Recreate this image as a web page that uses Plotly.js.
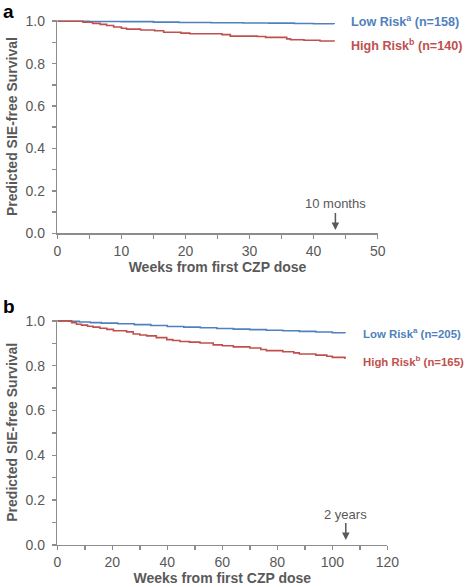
<!DOCTYPE html>
<html>
<head>
<meta charset="utf-8">
<script src="https://cdn.plot.ly/plotly-3.0.1.min.js"></script>
<style>html,body{margin:0;padding:0;background:#fff;}#chart{width:472px;height:587px;}</style>
</head>
<body>
<div id="chart"></div>
<script>
// ---- Panel a data (weeks, predicted SIE-free survival) ----
const weeksA_low  = [0, 5, 10, 15, 19, 24, 29, 33, 37, 40, 43.2];
const survA_low   = [1.0, 0.999, 0.998, 0.996, 0.994, 0.993, 0.992, 0.991, 0.989, 0.988, 0.987];
const weeksA_high = [0, 4.0, 5.5, 6.7, 7.7, 8.8, 10.0, 10.8, 13.0, 15.2, 16.6, 19.3, 20.7, 25.7, 27.0, 31.2, 32.5, 35.8, 36.4, 38.5, 41.0, 43.2];
const survA_high  = [1.0, 0.995, 0.99, 0.985, 0.98, 0.973, 0.967, 0.963, 0.959, 0.955, 0.948, 0.944, 0.941, 0.937, 0.930, 0.928, 0.924, 0.917, 0.913, 0.910, 0.907, 0.905];

// ---- Panel b data ----
const weeksB_low  = [0, 4, 8, 12, 16, 22, 28, 34, 40, 46, 52, 58, 64, 70, 76, 82, 88, 94, 100, 104.6];
const survB_low   = [1.0, 0.998, 0.995, 0.992, 0.99, 0.987, 0.983, 0.979, 0.975, 0.972, 0.969, 0.966, 0.963, 0.961, 0.958, 0.956, 0.953, 0.950, 0.947, 0.945];
const weeksB_high = [0, 5.2, 7, 8.8, 11, 13, 15.5, 18, 20.4, 25.2, 27.6, 30, 32.5, 36, 39.8, 42, 44.6, 48, 51.9, 56.7, 60, 64, 70, 74, 76, 82, 86, 88, 94, 98, 100, 104.6];
const survB_high  = [1.0, 0.992, 0.985, 0.981, 0.976, 0.972, 0.967, 0.962, 0.956, 0.951, 0.941, 0.937, 0.933, 0.925, 0.916, 0.912, 0.908, 0.905, 0.901, 0.893, 0.889, 0.884, 0.879, 0.872, 0.867, 0.862, 0.857, 0.852, 0.847, 0.842, 0.837, 0.830];

// ---- Labels ----
const xTitle = "Weeks from first CZP dose";
const yTitle = "Predicted SIE-free Survival";
const labelsA = ["Low Risk<sup>a</sup> (n=158)", "High Risk<sup>b</sup> (n=140)"];
const labelsB = ["Low Risk<sup>a</sup> (n=205)", "High Risk<sup>b</sup> (n=165)"];
const yTickVals = [0, 0.2, 0.4, 0.6, 0.8, 1.0];
const xTickValsA = [0, 10, 20, 30, 40, 50];
const xTickValsB = [0, 20, 40, 60, 80, 100, 120];

const BLUE = "#4f81bd", RED = "#c0504d", GRAY = "#595959", AXIS = "#8c8c8c";
const FONT = "Arial, 'Liberation Sans', sans-serif";

function xax(domain, range, tickvals, anchor, minorD) {
  return {
    domain: domain, range: range, anchor: anchor, tickvals: tickvals,
    showgrid: false, zeroline: false, showline: true, linecolor: AXIS, linewidth: 1.5,
    ticks: "outside", ticklen: 4, tickcolor: AXIS, tickwidth: 1.5,
    tickfont: {family: FONT, size: 14, color: GRAY},
    minor: {dtick: minorD, ticks: "outside", ticklen: 4, tickcolor: AXIS, tickwidth: 1.5, showgrid: false},
    title: {text: "<b>" + xTitle + "</b>", font: {family: FONT, size: 14, color: GRAY}, standoff: 4},
    fixedrange: true
  };
}
function yax(domain, anchor) {
  return {
    domain: domain, range: [0, 1.006], anchor: anchor, tickvals: yTickVals, tickformat: ".1f",
    showgrid: false, zeroline: false, showline: true, linecolor: AXIS, linewidth: 1.5,
    ticks: "outside", ticklen: 4, tickcolor: AXIS, tickwidth: 1.5, ticklabelstandoff: 4,
    tickfont: {family: FONT, size: 14, color: GRAY},
    minor: {dtick: 0.1, ticks: "outside", ticklen: 4, tickcolor: AXIS, tickwidth: 1.5, showgrid: false},
    title: {text: "<b>" + yTitle + "</b>", font: {family: FONT, size: 14, color: GRAY}, standoff: 4},
    fixedrange: true
  };
}

const traces = [
  {x: weeksA_low, y: survA_low, xaxis: "x", yaxis: "y", mode: "lines", line: {shape: "hv", color: BLUE, width: 1.6}, hoverinfo: "skip"},
  {x: weeksA_high, y: survA_high, xaxis: "x", yaxis: "y", mode: "lines", line: {shape: "hv", color: RED, width: 1.6}, hoverinfo: "skip"},
  {x: weeksB_low, y: survB_low, xaxis: "x2", yaxis: "y2", mode: "lines", line: {shape: "hv", color: BLUE, width: 1.6}, hoverinfo: "skip"},
  {x: weeksB_high, y: survB_high, xaxis: "x2", yaxis: "y2", mode: "lines", line: {shape: "hv", color: RED, width: 1.6}, hoverinfo: "skip"}
];

const lab = (txt, xref, yref, x, y, color, size) => ({text: "<b>" + txt + "</b>", xref: xref, yref: yref, x: x, y: y,
  xanchor: "left", yanchor: "middle", showarrow: false, font: {family: FONT, size: size, color: color}});

const layout = {
  width: 472, height: 587, margin: {l: 0, r: 0, t: 0, b: 0},
  paper_bgcolor: "#fff", plot_bgcolor: "#fff", showlegend: false,
  xaxis: xax([0.1214, 0.8002], [0, 50], xTickValsA, "y", 5),
  yaxis: yax([0.6026, 0.9660], "x"),
  xaxis2: xax([0.1214, 0.8206], [0, 120], xTickValsB, "y2", 10),
  yaxis2: yax([0.0716, 0.4557], "x2"),
  annotations: [
    {text: "<b>a</b>", xref: "paper", yref: "paper", x: 0.002, y: 1.002, xanchor: "left", yanchor: "top", showarrow: false, font: {family: FONT, size: 19, color: "#000"}},
    {text: "<b>b</b>", xref: "paper", yref: "paper", x: 0.002, y: 0.5, xanchor: "left", yanchor: "top", showarrow: false, font: {family: FONT, size: 19, color: "#000"}},
    lab(labelsA[0], "x", "y", 45.5, 0.999, BLUE, 12.6),
    lab(labelsA[1], "x", "y", 45.5, 0.886, RED, 12.6),
    lab(labelsB[0], "x2", "y2", 110.4, 0.948, BLUE, 11.4),
    lab(labelsB[1], "x2", "y2", 110.4, 0.822, RED, 11.4),
    {text: "10 months", xref: "x", yref: "y", x: 43.4, y: 0.016, ax: 0, ay: -26, showarrow: true, arrowhead: 2, arrowsize: 1, arrowwidth: 1.5, arrowcolor: GRAY, font: {family: FONT, size: 13, color: GRAY}},
    {text: "2 years", xref: "x2", yref: "y2", x: 104.9, y: 0.022, ax: 0, ay: -26, showarrow: true, arrowhead: 2, arrowsize: 1, arrowwidth: 1.5, arrowcolor: GRAY, font: {family: FONT, size: 13, color: GRAY}}
  ]
};

Plotly.newPlot("chart", traces, layout, {displayModeBar: false, staticPlot: true});
</script>
</body>
</html>
